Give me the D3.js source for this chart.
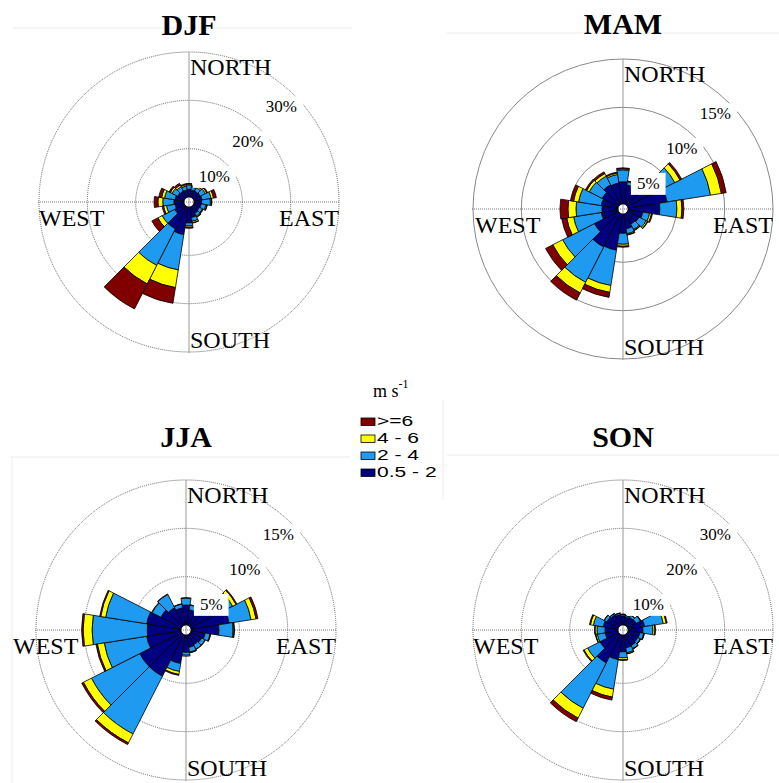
<!DOCTYPE html>
<html>
<head>
<meta charset="utf-8">
<script src="https://cdn.jsdelivr.net/npm/d3@7"></script>
<style>
  body { margin: 0; background: #fff; }
  svg { display: block; }
</style>
</head>
<body>
<svg id="chart" width="779" height="783"></svg>
<script>
// wind directions (bin centres, degrees clockwise from north)
const directions = [0, 18, 36, 54, 72, 90, 108, 126, 144, 162, 180, 198, 216, 234, 252, 270, 288, 306, 324, 342];
const speedKeys = ["s05", "s2", "s4", "s6"];
const speedColors = ["#000080", "#1e9bf0", "#ffff00", "#800000"];
const legendLabels = [">=6", "4 - 6", "2 - 4", "0.5 - 2"];
const compass = ["NORTH", "EAST", "SOUTH", "WEST"];

// frequency (%) per speed class, one value per direction
const djf05 = [1.6, 1.5, 1.5, 1.6, 1.7, 1.6, 1.5, 1.4, 1.6, 2.2, 3.3, 5.8, 5.2, 2.3, 1.9, 2.1, 1.9, 1.6, 1.5, 1.5];
const djf2  = [0.9, 0.6, 0.8, 1.2, 1.9, 1.8, 1.0, 0.7, 0.6, 0.8, 0.6, 7.4, 8.5, 2.9, 1.8, 2.3, 2.2, 1.3, 1.0, 0.8];
const djf4  = [0.2, 0.2, 0.3, 0.3, 0.5, 0.2, 0.2, 0.1, 0.2, 0.3, 0.3, 3.7, 4.3, 1.0, 0.6, 1.0, 0.6, 0.4, 0.4, 0.3];
const djf6  = [0.1, 0.1, 0.1, 0.2, 0.6, 0.1, 0.1, 0.1, 0.1, 0.1, 0.2, 3.3, 5.8, 1.4, 0.3, 0.8, 0.6, 0.3, 0.4, 0.2];

const mam05 = [2.3, 2.0, 2.2, 3.6, 4.1, 3.3, 1.55, 1.34, 1.24, 1.55, 2.0, 3.8, 3.9, 2.8, 1.76, 1.66, 1.76, 1.9, 2.3, 2.2];
const mam2  = [1.24, 0.35, 0.6, 1.9, 4.55, 1.76, 0.72, 0.83, 0.62, 0.52, 1.14, 3.7, 4.1, 3.7, 2.9, 2.69, 2.38, 1.5, 1.0, 0.9];
const mam4  = [0.1, 0.05, 0.1, 0.6, 1.14, 0.52, 0.2, 0.15, 0.1, 0.1, 0.2, 0.72, 1.24, 1.14, 0.72, 0.83, 0.52, 0.3, 0.3, 0.15];
const mam6  = [0.1, 0.02, 0.05, 0.2, 0.5, 0.2, 0.1, 0.05, 0.05, 0.05, 0.1, 0.52, 0.83, 0.83, 0.52, 0.83, 0.31, 0.15, 0.2, 0.1];

const jja05 = [2.07, 1.6, 2.0, 2.6, 4.0, 2.9, 1.5, 1.3, 1.2, 1.3, 1.8, 3.0, 4.86, 4.86, 3.6, 3.5, 3.6, 2.4, 2.07, 1.8];
const jja2  = [0.72, 0.5, 0.6, 2.3, 2.3, 1.45, 0.5, 0.4, 0.5, 0.5, 0.3, 0.83, 6.7, 5.6, 4.45, 5.7, 4.3, 1.03, 1.55, 0.4];
const jja4  = [0.03, 0.03, 0.05, 0.4, 0.52, 0.1, 0.05, 0.05, 0.05, 0.05, 0.1, 0.31, 1.03, 0.93, 0.72, 0.93, 0.52, 0.05, 0.05, 0.03];
const jja6  = [0, 0, 0, 0.1, 0.2, 0.05, 0.02, 0, 0, 0.02, 0, 0.1, 0.2, 0.2, 0.15, 0.15, 0.1, 0, 0, 0];

const son05 = [1.9, 1.7, 1.9, 2.0, 3.5, 3.1, 2.5, 2.4, 2.6, 2.7, 3.5, 5.17, 6.6, 4.3, 2.7, 2.7, 3.1, 2.7, 2.5, 2.2];
const son2  = [0.3, 0.3, 0.5, 1.0, 3.9, 2.07, 0.8, 0.6, 0.7, 1.03, 1.24, 6.2, 10.55, 2.9, 1.66, 1.66, 2.07, 0.62, 0.3, 0.3];
const son4  = [0.05, 0.05, 0.05, 0.1, 0.62, 0.41, 0.1, 0.05, 0.1, 0.2, 0.41, 1.66, 2.28, 0.83, 0.3, 0.4, 0.62, 0.05, 0.05, 0.05];
const son6  = [0, 0, 0, 0.02, 0.2, 0.1, 0.02, 0.02, 0.02, 0.05, 0.1, 0.62, 0.83, 0.2, 0.1, 0.1, 0.2, 0, 0, 0];

const ticks30 = [10, 20, 30];
const ticks15 = [5, 10, 15];

const panels = [
  {name: "DJF", cx: 189, cy: 202, titleY: 34.5, ticks: ticks30, cls: [djf05, djf2, djf4, djf6], westX: -150, dotted: true},
  {name: "MAM", cx: 623, cy: 209, titleY: 33.5, ticks: ticks15, cls: [mam05, mam2, mam4, mam6], westX: -148, dotted: false},
  {name: "JJA", cx: 186, cy: 630, titleY: 447, ticks: ticks15, cls: [jja05, jja2, jja4, jja6], westX: -173, dotted: true},
  {name: "SON", cx: 623, cy: 630, titleY: 447, ticks: ticks30, cls: [son05, son2, son4, son6], westX: -150, dotted: true}
];

const svg = d3.select("#chart");
const serif = "'Liberation Serif', 'Times New Roman', serif";
const sans = "'Liberation Sans', Arial, sans-serif";
const R = 150, hole = 5;

// faint frame lines left by the original layout
const faint = [[13, 28, 352, 28], [447, 33, 779, 33], [10, 457, 350, 457], [12, 457, 12, 783], [447, 455, 779, 455], [443, 400, 443, 500]];
svg.append("g").selectAll("line").data(faint).join("line")
  .attr("x1", d => d[0]).attr("y1", d => d[1]).attr("x2", d => d[2]).attr("y2", d => d[3])
  .attr("stroke", "#ececec").attr("stroke-width", 1);

function drawRose(p) {
  const g = svg.append("g").attr("transform", `translate(${p.cx},${p.cy})`);
  const pmax = d3.max(p.ticks);
  const r = d3.scaleLinear().domain([0, pmax]).range([hole, R]);
  const half = 9 * Math.PI / 180;

  // rings
  g.append("g").selectAll("circle").data(p.ticks).join("circle")
    .attr("r", d => r(d))
    .attr("fill", "none")
    .attr("stroke", p.dotted ? "#555" : "#888")
    .attr("stroke-width", p.dotted ? 0.9 : 1)
    .attr("stroke-dasharray", p.dotted ? "1,1" : null);

  // cross
  g.append("line").attr("x1", -R - 1).attr("x2", R + 1).attr("y1", 0).attr("y2", 0)
    .attr("stroke", "#666").attr("stroke-width", 0.9).attr("stroke-dasharray", "1,1");
  g.append("line").attr("x1", 0).attr("x2", 0).attr("y1", -R).attr("y2", R + 1)
    .attr("stroke", "#999");

  // stacked bars
  const rows = directions.map((dir, i) => {
    const o = {dir};
    speedKeys.forEach((k, j) => o[k] = p.cls[j][i]);
    return o;
  });
  const series = d3.stack().keys(speedKeys)(rows);
  const arc = d3.arc()
    .innerRadius(d => r(d[0]))
    .outerRadius(d => r(d[1]))
    .startAngle(d => d.data.dir * Math.PI / 180 - half)
    .endAngle(d => d.data.dir * Math.PI / 180 + half);

  g.append("g").selectAll("g").data(series).join("g")
    .attr("fill", (d, i) => speedColors[i])
    .selectAll("path").data(d => d.filter(s => s[1] > s[0])).join("path")
    .attr("d", arc)
    .attr("stroke", "#000")
    .attr("stroke-width", 0.8)
    .attr("stroke-linejoin", "round");

  // compass labels
  const lab = g.append("g").style("font-family", serif).style("font-size", "24px").attr("fill", "#000");
  lab.append("text").attr("x", 1).attr("y", -127).text(compass[0]);
  lab.append("text").attr("x", R).attr("y", 24).attr("text-anchor", "end").text(compass[1]);
  lab.append("text").attr("x", 1).attr("y", 146).text(compass[2]);
  lab.append("text").attr("x", p.westX).attr("y", 24).text(compass[3]);

  // ring labels with white boxes
  const a = 44 * Math.PI / 180;
  p.ticks.forEach(t => {
    const rr = r(t) - 17;
    const tx = rr * Math.sin(a), ty = -rr * Math.cos(a);
    const lg = g.append("g");
    const box = lg.append("rect").attr("fill", "#fff");
    const txt = lg.append("text")
      .attr("x", tx).attr("y", ty + 6)
      .attr("text-anchor", "middle")
      .style("font-family", serif).style("font-size", "17px")
      .text(t + "%");
    const bb = txt.node().getBBox();
    box.attr("x", bb.x - 6).attr("y", ty - 10).attr("width", bb.width + 12).attr("height", 22);
  });

  // title
  svg.append("text")
    .attr("x", p.cx).attr("y", p.titleY)
    .attr("text-anchor", "middle")
    .style("font-family", serif).style("font-size", "30px").style("font-weight", "bold")
    .text(p.name);
}

panels.forEach(drawRose);

// legend
const leg = svg.append("g");
const unit = leg.append("text").attr("x", 373).attr("y", 397)
  .style("font-family", serif).style("font-size", "18px");
unit.append("tspan").text("m s");
unit.append("tspan").attr("dy", -9).style("font-size", "12px").text("-1");

const legendColors = speedColors.slice().reverse();
const item = leg.selectAll("g.item").data(legendLabels).join("g").attr("class", "item")
  .attr("transform", (d, i) => `translate(361,${425.5 + i * 17})`);
item.append("rect").attr("x", 0).attr("y", -7.5).attr("width", 14).attr("height", 7.5)
  .attr("fill", (d, i) => legendColors[i]).attr("stroke", "#000").attr("stroke-width", 0.8);
item.append("text").attr("transform", "translate(16,0) scale(1.45,1)")
  .style("font-family", sans).style("font-size", "14.5px").text(d => d);
</script>
</body>
</html>
